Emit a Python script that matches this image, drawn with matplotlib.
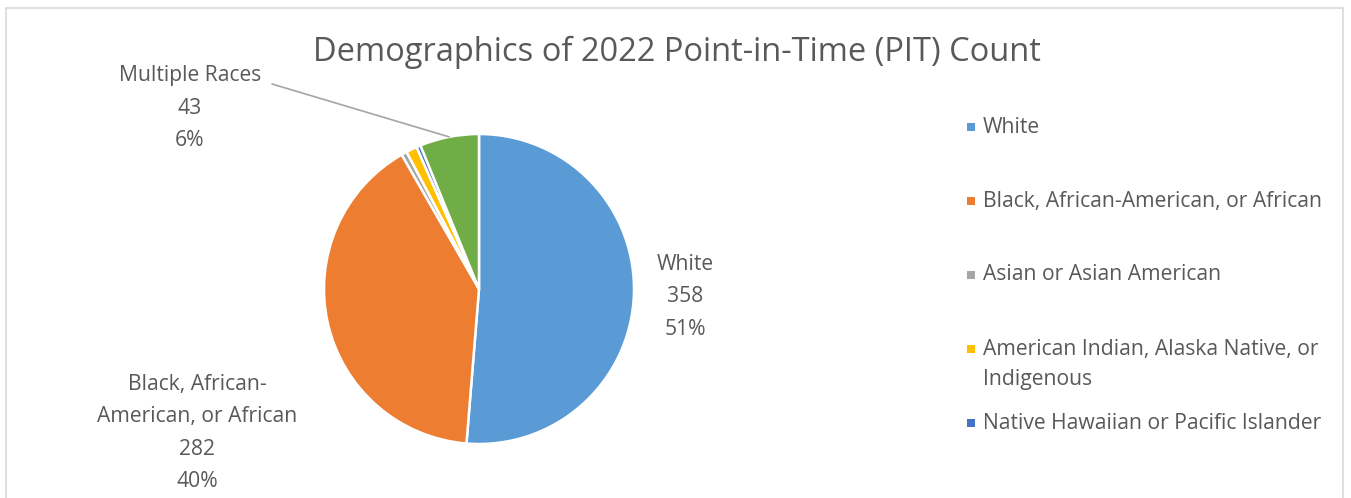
import numpy as np
import matplotlib
matplotlib.use('Agg')
import matplotlib.pyplot as plt
from matplotlib.patches import Rectangle

plt.rcParams['font.family'] = ['Open Sans', 'DejaVu Sans']

categories = ['White', 'Black, African-American, or African', 'Asian or Asian American',
              'American Indian, Alaska Native, or Indigenous',
              'Native Hawaiian or Pacific Islander', 'Multiple Races']
counts = [358, 282, 4, 8, 3, 43]
colors = ['#5B9BD5', '#ED7D31', '#A5A5A5', '#FFC000', '#4472C4', '#70AD47']
legend_labels = ['White', 'Black, African-American, or African', 'Asian or Asian American',
                 'American Indian, Alaska Native, or\nIndigenous',
                 'Native Hawaiian or Pacific Islander']

W, H = 1351, 498
fig = plt.figure(figsize=(W / 100, H / 100), dpi=100)
fig.patch.set_facecolor('white')

def fx(px):
    return px / W

def fy(py):
    return 1 - py / H

# chart border
fig.patches.append(Rectangle((fx(6), fy(520)), fx(1337), (520 - 8) / H, transform=fig.transFigure,
                             fill=False, edgecolor='#D9D9D9', linewidth=1.2))

# pie axes: centre (479, 289), radius 155 px
cx, cy, r = 479, 289, 155
ax = fig.add_axes([fx(cx - r), fy(cy + r), 2 * r / W, 2 * r / H])
wedges, _ = ax.pie(counts, colors=colors, startangle=90, counterclock=False,
                   wedgeprops=dict(edgecolor='white', linewidth=1.8))
ax.set_xlim(-1, 1)
ax.set_ylim(-1, 1)
ax.set_aspect('auto')
ax.axis('off')

total = sum(counts)
pct = [round(c / total * 100) for c in counts]
txt = '#595959'
fs = 15.2

def lab(px, py, s):
    fig.text(fx(px), fy(py), s, ha='center', va='center', color=txt, fontsize=fs, linespacing=1.72)

lab(685, 297, f'White\n{counts[0]}\n{pct[0]}%')
lab(197, 433, f'Black, African-\nAmerican, or African\n{counts[1]}\n{pct[1]}%')
lab(190, 108, f'Multiple Races\n{counts[5]}\n{pct[5]}%')

# leader line for Multiple Races, ending on the wedge edge
w = wedges[5]
mid = np.deg2rad((w.theta1 + w.theta2) / 2)
ax.annotate('', xy=(np.cos(mid), np.sin(mid)), xycoords='data',
            xytext=(fx(272), fy(84)), textcoords='figure fraction',
            arrowprops=dict(arrowstyle='-', color='#A5A5A5', linewidth=1.2,
                            shrinkA=0, shrinkB=0))

# title
fig.text(fx(677), fy(52), 'Demographics of 2022 Point-in-Time (PIT) Count', ha='center', va='center',
         color=txt, fontsize=23.5)

# legend
for i, (l, c) in enumerate(zip(legend_labels, colors[:5])):
    y = 127 + 74 * i
    fig.patches.append(Rectangle((fx(967), fy(y + 4)), fx(8), 8 / H, transform=fig.transFigure,
                                 facecolor=c, edgecolor='none'))
    lines = l.split('\n')
    for j, s in enumerate(lines):
        fig.text(fx(983), fy(y + 30 * j), s, ha='left', va='center', color=txt, fontsize=fs)

fig.savefig('out.png', dpi=100, facecolor='white')
